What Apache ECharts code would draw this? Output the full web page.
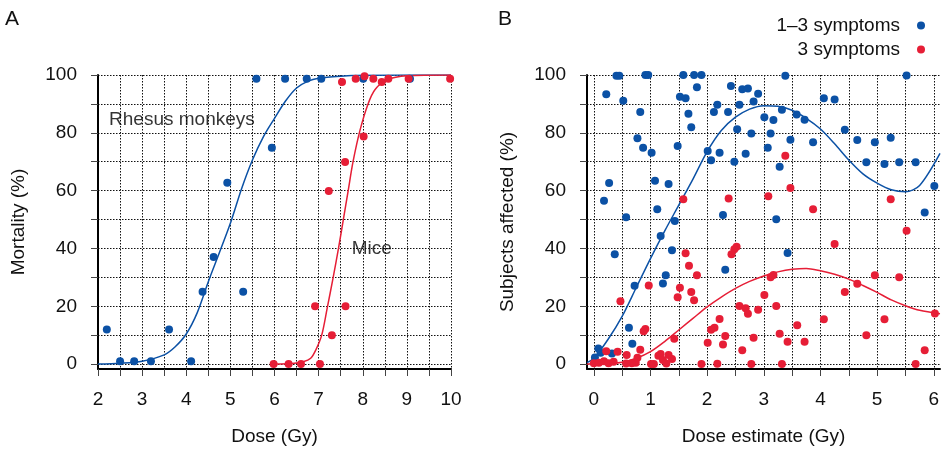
<!DOCTYPE html>
<html><head><meta charset="utf-8">
<script src="https://cdn.jsdelivr.net/npm/echarts@6/dist/echarts.min.js"></script>
<style>html,body{margin:0;padding:0;background:#fff}#c{width:947px;height:452px}</style>
</head><body><div id="c"></div><script>
// ---------- Panel A data ----------
const rhesusDose = [2.20, 2.50, 2.82, 3.20, 3.61, 4.11, 4.37, 4.62, 4.93, 5.29, 5.59, 5.94, 6.24, 6.73, 7.06, 8.01, 9.07];
const rhesusMort = [12, 1, 1, 1, 12, 1, 25, 37, 62.7, 25, 98.7, 74.8, 98.7, 98.7, 98.7, 98.7, 98.7];
const miceDose = [5.98, 6.32, 6.60, 7.03, 6.92, 7.30, 7.61, 7.23, 7.60, 8.02, 7.53, 7.84, 8.04, 8.24, 8.43, 8.58, 9.04, 9.98];
const miceMort = [0, 0, 0, 0, 20, 10, 20, 59.9, 69.9, 78.7, 97.6, 98.7, 99.6, 98.7, 97.6, 98.7, 98.7, 98.7];
const rhesusFitDose = [2, 2.5, 3.0, 3.5, 3.75, 4.0, 4.25, 4.5, 4.75, 5.0, 5.25, 5.5, 5.75, 6.0, 6.25, 6.5, 6.75, 7.0, 7.5, 8.0, 9.0, 10];
const rhesusFitMort = [0, 0.3, 1.0, 3.2, 6.0, 10.4, 17.8, 28.5, 38.5, 48.7, 60.5, 70.6, 78.7, 85.0, 91.0, 95.5, 97.8, 98.9, 99.6, 99.9, 100, 100];
const miceFitDose = [6.0, 6.4, 6.65, 6.82, 6.94, 7.07, 7.19, 7.33, 7.45, 7.56, 7.67, 7.78, 7.94, 8.12, 8.28, 8.55, 9.0, 10];
const miceFitMort = [0, 0.2, 0.8, 2, 5, 10, 19, 30, 40, 50, 60, 70, 81, 90, 95, 98.3, 99.7, 100];
const doseTicksA = [2, 2.5, 3, 3.5, 4, 4.5, 5, 5.5, 6, 6.5, 7, 7.5, 8, 8.5, 9, 9.5, 10];
const doseLabelsA = [2, 3, 4, 5, 6, 7, 8, 9, 10];
const annotationTextA = ['Rhesus monkeys', 'Mice'];
const annotationDoseA = [2.25, 7.75];
const annotationMortA = [84.4, 39.8];

// ---------- Panel B data ----------
const sym13Dose = [0.40, 0.45, 0.91, 0.96, 1.58, 1.77, 1.90, 0.22, 0.52, 1.52, 1.62, 1.82, 0.82, 1.67, 1.72, 0.77, 0.87, 1.02, 1.48, 0.27, 1.08, 1.32, 0.18, 1.12, 0.57, 1.43, 1.18, 1.38, 0.37, 1.27, 1.22, 0.72, 0.62, 0.68, 0.08, 0.12, 0.32, 0.02,
  3.38, 2.42, 2.62, 2.72, 2.90, 4.06, 2.18, 2.57, 2.82, 2.12, 2.37, 3.32, 3.58, 3.72, 3.01, 3.17, 2.53, 2.78, 3.12, 3.47, 3.87, 3.07, 2.01, 2.22, 2.68, 2.07, 2.48, 3.28, 2.28, 3.22, 3.42, 2.32,
  5.52, 4.25, 4.43, 4.65, 4.96, 5.24, 4.81, 5.13, 5.39, 5.68, 6.01, 5.84];
const sym13Pct = [99.7, 99.7, 100, 100, 100, 100, 100, 93.3, 91.1, 92.5, 92.0, 95.8, 87.2, 86.6, 81.9, 78.1, 74.8, 73.1, 75.4, 62.6, 63.4, 62.3, 56.5, 53.6, 50.8, 49.5, 44.3, 39.4, 38.0, 30.7, 27.9, 27.1, 12.6, 7.0, 5.4, 3.9, 3.7, 2.3,
  99.7, 96.2, 95.1, 95.3, 93.5, 92.0, 89.7, 89.7, 90.8, 87.2, 87.2, 88.0, 86.3, 84.5, 85.4, 84.4, 81.2, 79.8, 79.8, 77.6, 76.7, 74.8, 73.7, 73.1, 72.8, 70.5, 70.0, 68.3, 51.6, 50.1, 38.4, 32.6,
  99.8, 91.5, 81.1, 77.5, 76.7, 78.3, 69.8, 69.2, 69.8, 69.8, 61.6, 52.4];
const sym3Dose = [1.58, 1.62, 1.68, 1.82, 0.97, 1.52, 1.72, 1.48, 1.77, 0.47, 0.91, 0.88, 1.42, 0.22, 0.42, 0.82, 0.58, 1.14, 1.18, 1.32, 1.22, 1.38, 1.28, 0.77, 0.74, 0.67, 0.57, 0.00, 0.09, 0.18, 0.26, 0.35, 1.01, 1.06, 1.90,
  3.38, 3.47, 2.38, 3.08, 3.87, 2.52, 2.48, 2.43, 3.17, 3.12, 3.01, 2.57, 2.68, 2.72, 2.90, 3.22, 2.22, 2.13, 2.07, 3.59, 4.06, 2.32, 2.82, 3.28, 2.01, 2.28, 3.42, 3.72, 2.62, 2.18, 2.78, 3.32,
  5.24, 5.52, 4.25, 4.96, 5.39, 4.65, 4.43, 5.13, 4.81, 5.84, 5.68, 6.02];
const sym3Pct = [57.0, 38.3, 34.0, 30.7, 27.2, 26.4, 24.9, 23.1, 22.1, 21.7, 12.1, 11.4, 8.8, 4.4, 4.3, 5.0, 3.1, 2.9, 3.5, 3.1, 1.4, 1.8, 0.2, 2.2, 0.5, 0.3, 0.2, 0.3, 0.5, 1.0, 0.3, 0.8, 0, 0, 0,
  72.1, 60.9, 57.3, 58.1, 53.6, 40.6, 39.7, 38.0, 30.8, 30.0, 23.9, 20.1, 19.3, 17.4, 18.8, 20.1, 15.6, 12.6, 11.9, 13.4, 15.5, 9.7, 9.1, 10.5, 7.4, 6.8, 7.7, 7.7, 4.8, 0.1, 0, 0,
  57.0, 46.1, 41.5, 30.7, 30.0, 27.8, 24.9, 15.5, 10.0, 4.8, 0, 17.5];
const sym13FitDose = [-0.12, 0, 0.25, 0.5, 0.75, 1.0, 1.25, 1.5, 1.75, 2.0, 2.25, 2.5, 2.75, 3.0, 3.25, 3.5, 3.75, 4.0, 4.25, 4.5, 4.75, 5.0, 5.25, 5.5, 5.75, 6.11];
const sym13FitPct = [0.5, 2.0, 8.5, 16.5, 26.5, 36.5, 46, 55, 64, 73.5, 80.8, 85.4, 88.2, 89.4, 89.2, 87.8, 85.0, 81.3, 76.2, 70.6, 65.8, 62.6, 60.3, 59.6, 61.8, 72.9];
const sym3FitDose = [-0.12, 0.25, 0.5, 0.75, 1.0, 1.25, 1.5, 1.75, 2.0, 2.25, 2.5, 2.75, 3.0, 3.25, 3.5, 3.75, 4.0, 4.25, 4.5, 4.75, 5.0, 5.25, 5.5, 5.75, 6.11];
const sym3FitPct = [0, 0.1, 0.6, 2.0, 4.3, 7.8, 11.8, 15.8, 19.8, 23.2, 26.2, 28.6, 30.5, 31.9, 32.8, 33.1, 32.3, 31.1, 29.4, 27.2, 24.8, 22.2, 20.2, 18.6, 17.4];
const doseTicksB = [0, 0.5, 1, 1.5, 2, 2.5, 3, 3.5, 4, 4.5, 5, 5.5, 6];
const doseLabelsB = [0, 1, 2, 3, 4, 5, 6];
const legendNames = ['1–3 symptoms', '3 symptoms'];

// ---------- shared ----------
const pctTicks = [0, 10, 20, 30, 40, 50, 60, 70, 80, 90, 100];
const pctLabels = [0, 20, 40, 60, 80, 100];

const BLUE = '#0b51a5';
const RED = '#e61e36';
const FONT = '"Liberation Sans", Arial, Helvetica, sans-serif';
const FS = 19;
const zip = (a, b) => a.map((v, i) => [v, b[i]]);

function xAxisCfg(grid, min, max, ticks, labels, name) {
  return {
    gridIndex: grid, type: 'value', min: min, max: max,
    name: name, nameLocation: 'middle', nameGap: 58,
    nameTextStyle: { fontSize: FS, color: '#111', fontFamily: FONT },
    axisLine: { show: true, onZero: false, lineStyle: { color: '#000', width: 2 } },
    axisTick: { show: true, customValues: ticks, length: 7, lineStyle: { color: '#444', width: 1 } },
    axisLabel: { customValues: labels, margin: 21, fontSize: FS, color: '#111', fontFamily: FONT },
    splitLine: { show: true, lineStyle: { color: '#111', width: 1, type: [1.5, 1.5] } }
  };
}
function yAxisCfg(grid, name) {
  return {
    gridIndex: grid, type: 'value', min: -1.7, max: 100,
    name: name, nameLocation: 'middle', nameGap: 70,
    nameTextStyle: { fontSize: FS, color: '#111', fontFamily: FONT },
    axisLine: { show: true, onZero: false, lineStyle: { color: '#000', width: 2 } },
    axisTick: { show: true, customValues: pctTicks, length: 7, lineStyle: { color: '#444', width: 1 } },
    axisLabel: { customValues: pctLabels, margin: 21, fontSize: FS, color: '#111', fontFamily: FONT },
    splitLine: { show: true, lineStyle: { color: '#111', width: 1, type: [1.5, 1.5] } }
  };
}

const chart = echarts.init(document.getElementById('c'), null, { renderer: 'canvas' });
chart.setOption({
  animation: false,
  backgroundColor: '#fff',
  textStyle: { fontFamily: FONT },
  title: [
    { text: 'A', left: 0, top: 4, textStyle: { fontSize: 21, fontWeight: 'normal', color: '#111', fontFamily: FONT } },
    { text: 'B', left: 493, top: 4, textStyle: { fontSize: 21, fontWeight: 'normal', color: '#111', fontFamily: FONT } }
  ],
  legend: {
    data: legendNames, orient: 'vertical', right: 17, top: 11, align: 'right',
    icon: 'circle', itemWidth: 8, itemHeight: 8, itemGap: 5,
    textStyle: { fontSize: FS, color: '#111', fontFamily: FONT, padding: [0, 12, 0, 0] }
  },
  grid: [
    { left: 98, top: 75, width: 353, height: 294 },
    { left: 587, top: 75, width: 353, height: 294 }
  ],
  xAxis: [
    xAxisCfg(0, 2, 10, doseTicksA, doseLabelsA, 'Dose (Gy)'),
    xAxisCfg(1, -0.12, 6.11, doseTicksB, doseLabelsB, 'Dose estimate (Gy)')
  ],
  yAxis: [
    yAxisCfg(0, 'Mortality (%)'),
    yAxisCfg(1, 'Subjects affected (%)')
  ],
  series: [
    { type: 'line', xAxisIndex: 0, yAxisIndex: 0, data: zip(rhesusFitDose, rhesusFitMort), smooth: 0.3, symbol: 'none', lineStyle: { color: BLUE, width: 1.5 }, z: 2 },
    { type: 'line', xAxisIndex: 0, yAxisIndex: 0, data: zip(miceFitDose, miceFitMort), smooth: 0.3, symbol: 'none', lineStyle: { color: RED, width: 1.5 }, z: 2 },
    { type: 'scatter', xAxisIndex: 0, yAxisIndex: 0, data: zip(rhesusDose, rhesusMort), symbolSize: 8, itemStyle: { color: BLUE, opacity: 1 }, z: 3 },
    { type: 'scatter', xAxisIndex: 0, yAxisIndex: 0, data: zip(miceDose, miceMort), symbolSize: 8, itemStyle: { color: RED, opacity: 1 }, z: 3 },
    { type: 'scatter', xAxisIndex: 0, yAxisIndex: 0, silent: true, symbolSize: 0,
      data: annotationTextA.map((t, i) => ({ value: [annotationDoseA[i], annotationMortA[i]], name: t })),
      label: { show: true, position: 'right', distance: 0, formatter: p => p.name, fontSize: FS, color: '#000', textBorderWidth: 0, fontFamily: FONT }, z: 4 },
    { type: 'line', xAxisIndex: 1, yAxisIndex: 1, data: zip(sym13FitDose, sym13FitPct), smooth: 0.3, symbol: 'none', lineStyle: { color: BLUE, width: 1.5 }, z: 2 },
    { type: 'line', xAxisIndex: 1, yAxisIndex: 1, data: zip(sym3FitDose, sym3FitPct), smooth: 0.3, symbol: 'none', lineStyle: { color: RED, width: 1.5 }, z: 2 },
    { name: legendNames[0], type: 'scatter', xAxisIndex: 1, yAxisIndex: 1, data: zip(sym13Dose, sym13Pct), symbolSize: 8, itemStyle: { color: BLUE, opacity: 1 }, z: 3 },
    { name: legendNames[1], type: 'scatter', xAxisIndex: 1, yAxisIndex: 1, data: zip(sym3Dose, sym3Pct), symbolSize: 8, itemStyle: { color: RED, opacity: 1 }, z: 3 }
  ]
});
</script></body></html>
